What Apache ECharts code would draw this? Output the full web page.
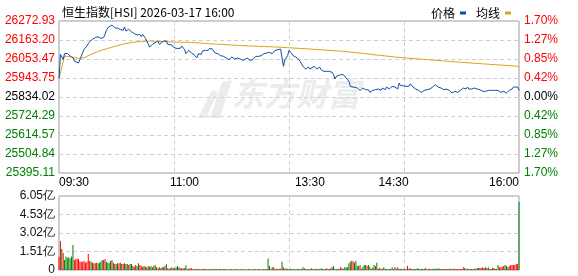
<!DOCTYPE html>
<html><head><meta charset="utf-8">
<script src="https://cdn.jsdelivr.net/npm/echarts@6/dist/echarts.min.js"></script>
<style>html,body{margin:0;padding:0;background:#fff}#c{width:578px;height:276px}</style>
</head><body><div id="c"></div>
<script>
const titleText = '恒生指数[HSI] 2026-03-17 16:00';
const legendNames = ['价格', '均线'];
const prevClose = 25834.02;
const priceTickLabels = ['25395.11','25504.84','25614.57','25724.29','25834.02','25943.75','26053.47','26163.20','26272.93'];
const pctTickLabels = ['1.70%','1.27%','0.85%','0.42%','0.00%','0.42%','0.85%','1.27%','1.70%'];
const timeLabels = ['09:30','11:00','13:30','14:30','16:00'];
const timeLabelMinutes = [0, 90, 180, 240, 330];
const volTickLabels = ['0','1.51亿','3.02亿','4.53亿','6.05亿'];
const volAxisMax = 605; // in 0.01亿

const priceMinutes = [0,1,2,3,4,5,6,8,9,10,11,12,14,15,16,17,18,20,21,22,23,24,26,27,28,29,30,32,33,34,35,36,38,39,40,41,42,44,45,46,47,48,50,51,52,53,54,56,57,58,59,60,62,63,64,65,66,67,69,70,71,72,73,75,76,77,78,79,81,82,83,84,85,87,88,89,90,91,93,94,95,96,97,99,100,101,102,103,105,106,107,108,109,
110,111,112,113,114,116,117,118,119,120,122,123,124,125,126,128,129,130,131,132,133,135,136,137,138,139,141,142,143,144,145,147,148,149,150,151,153,154,155,156,157,159,160,161,162,163,164,165,166,167,168,169,171,172,173,174,175,177,178,179,180,181,183,184,185,186,187,188,190,191,192,193,194,196,197,198,199,200,202,203,204,205,206,208,209,210,211,212,214,215,216,217,218,220,
221,222,223,225,226,227,228,229,231,232,233,234,235,237,238,239,240,241,243,244,245,246,247,249,250,251,252,253,254,256,257,258,259,260,262,263,264,265,266,268,269,270,271,272,274,275,276,277,278,280,281,282,283,284,286,287,288,289,290,292,293,294,295,296,298,299,300,301,302,304,305,306,307,308,309,311,312,313,314,315,317,318,319,320,321,323,324,325,326,327,329,330];
const priceValues = [25941.6,26080.2,26070.6,26051.4,26084.1,26093.7,26086.0,26070.6,26064.8,26061.0,26041.7,26036.0,26030.2,26051.4,26070.6,26089.9,26109.1,26128.4,26141.8,26153.4,26161.1,26166.9,26176.5,26186.1,26182.3,26172.6,26172.6,26176.5,26195.7,26218.8,26234.2,26243.9,26249.6,26253.5,26234.2,26224.6,26230.4,26224.6,26234.2,26218.8,26238.1,26215.0,26224.6,26234.2,26211.2,26205.4,26199.6,26191.9,26186.1,26195.7,26182.3,26195.7,26172.6,26157.2,26161.1,26122.6,26128.4,26138.0,26147.6,26153.4,26157.2,26138.0,26147.6,26157.2,26153.4,26157.2,26138.0,26141.8,26134.2,26122.6,26118.7,26114.9,26122.6,26114.9,26128.4,26122.6,26109.1,26084.1,26103.3,26099.5,26089.9,26084.1,26076.4,26061.0,26084.1,26089.9,26080.2,26099.5,26103.3,26109.1,26103.3,26114.9,26107.2,
26111.0,26103.3,26087.9,26078.3,26084.1,26072.5,26078.3,26068.7,26072.5,26059.1,26049.4,26059.1,26064.8,26059.1,26053.3,26059.1,26064.8,26053.3,26059.1,26045.6,26053.3,26059.1,26049.4,26045.6,26053.3,26049.4,26068.7,26072.5,26068.7,26078.3,26072.5,26084.1,26078.3,26087.9,26084.1,26091.8,26084.1,26087.9,26103.3,26097.6,26107.2,26111.0,26103.3,26010.9,26049.4,26059.1,26072.5,26103.3,26097.6,26084.1,26072.5,26068.7,26059.1,26053.3,26039.8,26030.2,26010.9,25995.5,26001.3,26007.1,25995.5,26001.3,26010.9,26007.1,25995.5,26001.3,26007.1,25991.7,25982.1,25987.9,25982.1,25991.7,25982.1,25976.3,25962.8,25937.8,25953.2,25949.3,25962.8,25957.0,25962.8,25953.2,25943.6,25924.3,25895.4,25885.8,25891.6,25880.1,25885.8,25880.1,25872.3,25880.1,25885.8,25876.2,
25885.8,25876.2,25860.8,25872.3,25880.0,25876.2,25885.8,25880.0,25872.3,25885.8,25880.0,25876.2,25891.6,25880.0,25885.8,25895.4,25885.8,25891.6,25880.0,25914.7,25899.3,25910.8,25899.3,25895.4,25905.1,25895.4,25910.8,25905.1,25891.6,25880.0,25876.2,25872.3,25866.6,25860.8,25872.3,25876.2,25876.2,25876.2,25880.0,25891.6,25885.8,25905.1,25895.4,25891.6,25885.8,25880.0,25876.2,25876.2,25880.0,25872.3,25866.6,25856.9,25860.8,25866.6,25860.8,25866.6,25872.3,25876.2,25885.8,25880.0,25891.6,25880.0,25872.3,25880.0,25885.8,25876.2,25880.0,25872.3,25876.2,25866.6,25872.3,25866.6,25860.8,25872.3,25876.2,25872.3,25866.6,25872.3,25880.0,25872.3,25860.8,25856.9,25866.6,25860.8,25856.9,25872.3,25876.2,25880.0,25891.6,25899.3,25891.6,25872.3];

const avgMinutes = [0,4,9,14,18,23,29,35,41,47,53,59,65,71,83,95,108,132,156,180,204,220,241,265,289,313,330];
const avgValues = [25941.6,26070.6,26064.8,26057.1,26061.0,26080.2,26099.5,26114.9,26128.4,26141.8,26149.5,26155.2,26157.2,26155.3,26151.5,26149.5,26141.8,26130.3,26122.6,26111.0,26097.6,26084.1,26064.8,26049.4,26034.0,26020.6,26010.9];

// volume per minute, unit 0.01亿
const volume = [
109,237,172,140,82,110,100,105,95,110,
205,82,87,95,90,68,68,68,76,60,
68,131,76,68,60,55,55,60,55,60,
68,82,82,90,68,60,60,74,82,60,
49,49,55,55,60,49,49,55,49,49,
41,49,49,33,27,41,33,55,41,33,
27,33,27,22,33,27,33,22,33,41,
22,14,22,14,22,22,33,49,14,11,
14,22,14,14,22,33,22,14,14,14,
14,38,11,11,14,14,8,6,8,11,
6,8,6,8,11,6,8,6,8,6,
8,6,11,6,8,6,8,6,6,8,
6,5,6,8,6,5,6,8,5,6,
5,6,8,5,6,5,8,6,5,6,
8,6,5,8,6,5,6,8,6,8,
95,33,11,22,22,8,11,8,11,11,
68,22,11,14,8,8,8,8,8,6,
6,8,8,6,8,22,14,8,8,6,
8,14,6,8,8,11,6,8,14,8,
8,8,14,8,8,14,22,33,8,6,
11,8,22,16,8,22,22,22,55,68,
76,71,60,76,33,33,41,11,27,41,
41,33,41,27,11,19,41,33,60,11,
16,11,11,22,11,8,8,8,11,22,
8,22,11,22,8,8,11,8,8,8,
33,11,14,8,8,8,8,14,11,8,
8,8,11,14,6,8,11,8,8,11,
11,11,14,8,8,8,8,8,8,8,
11,8,11,8,11,6,8,8,8,8,
22,16,11,11,8,8,8,8,11,11,
16,16,16,16,22,16,22,16,22,8,
8,16,16,8,8,41,22,22,27,33,
41,33,22,33,41,41,41,41,49,49,
556];
// 1 = up (red), 0 = down (green)
const volumeUp = [
1,1,0,1,0,0,0,0,0,0,
0,1,1,1,1,1,1,1,1,1,
1,1,1,0,1,0,1,1,0,0,
0,0,1,1,0,0,0,0,1,0,
1,0,0,1,1,0,1,0,1,0,
1,0,0,0,1,1,0,1,0,1,
1,0,1,0,0,1,0,1,0,0,
1,1,0,1,0,1,0,0,1,1,
1,0,0,1,0,0,1,1,0,1,
0,0,1,0,1,1,0,1,0,1,
1,0,1,0,1,0,1,0,1,1,
0,0,0,1,0,1,0,1,0,0,
1,0,0,1,1,0,0,0,1,0,
1,0,0,1,0,1,0,0,1,0,
1,0,0,1,0,0,1,0,0,1,
0,0,1,0,1,0,1,0,1,0,
0,1,1,0,0,0,0,0,0,0,
0,1,0,0,1,0,0,1,0,0,
1,0,0,1,1,1,0,0,0,1,
0,0,1,1,1,0,0,0,1,1,
0,0,1,1,0,0,0,0,0,0,
1,1,0,0,0,1,0,1,0,0,
0,1,0,0,1,1,0,0,0,1,
1,0,1,0,0,0,0,0,1,0,
0,1,0,1,0,0,1,0,0,0,
1,1,1,0,0,0,0,0,0,0,
0,0,1,0,1,0,1,1,0,0,
0,0,0,1,1,0,1,1,0,1,
0,1,0,1,1,0,1,1,1,1,
1,1,0,0,0,0,1,1,1,0,
0,0,1,1,1,1,0,0,0,1,
1,1,1,0,0,0,1,1,1,1,
0,0,0,1,1,1,1,1,1,1,
0];

const FONT = '"Liberation Sans", Arial, sans-serif';
const RED = '#ff0000', GREEN = '#008000', BLUE = '#0f4fa3', GOLD = '#e0a21c';
const step = (parseFloat(priceTickLabels[8]) - parseFloat(priceTickLabels[0])) / 8;
const toUnit = v => (v - prevClose) / step;
const labelColor = (v) => { const i = Math.round(v) + 4; return i > 4 ? RED : (i < 4 ? GREEN : '#000'); };
const dashed = { show: true, lineStyle: { color: '#d0d0d0', type: [4, 3], width: 1 } };

const chart = echarts.init(document.getElementById('c'), null, { renderer: 'canvas' });
chart.setOption({
  animation: false,
  backgroundColor: '#fff',
  textStyle: { fontFamily: FONT },
  title: { text: titleText, left: 57, top: 1, textStyle: { fontSize: 12, fontWeight: 'normal', color: '#000', fontFamily: '"Noto Sans CJK SC", sans-serif' } },
  legend: { data: legendNames, right: 62, top: 2, align: 'right', icon: 'rect', itemWidth: 6, itemHeight: 3, itemGap: 10,
    textStyle: { fontSize: 12, color: '#000', fontFamily: '"Noto Sans CJK SC", sans-serif' } },
  grid: [
    { left: 59, right: 59, top: 21, height: 152, show: true, borderColor: '#999', borderWidth: 1 },
    { left: 59, right: 59, top: 196, height: 74, show: true, borderColor: '#999', borderWidth: 1 }
  ],
  xAxis: [
    { gridIndex: 0, type: 'value', min: 0, max: 330, interval: 82.5, position: 'bottom', axisLine: { show: false }, axisTick: { show: false }, axisLabel: { show: false }, splitLine: dashed },
    { gridIndex: 0, type: 'value', min: 0, max: 330, position: 'bottom', offset: 0, axisLine: { show: false }, axisTick: { show: false }, splitLine: { show: false },
      axisLabel: { customValues: timeLabelMinutes, fontSize: 12, color: '#000', margin: 4, alignMinLabel: 'left', alignMaxLabel: 'right',
        formatter: v => timeLabels[timeLabelMinutes.indexOf(Math.round(v))] } },
    { gridIndex: 1, type: 'value', min: 0, max: 330, interval: 82.5, position: 'bottom', axisLine: { show: false }, axisTick: { show: false }, axisLabel: { show: false }, splitLine: dashed }
  ],
  yAxis: [
    { gridIndex: 0, type: 'value', min: -4, max: 4, interval: 1, position: 'left', axisLine: { show: false }, axisTick: { show: false }, splitLine: dashed,
      axisLabel: { fontSize: 12, margin: 4, formatter: v => priceTickLabels[Math.round(v) + 4], color: labelColor } },
    { gridIndex: 0, type: 'value', min: -4, max: 4, interval: 1, position: 'right', axisLine: { show: false }, axisTick: { show: false }, splitLine: { show: false },
      axisLabel: { fontSize: 12, margin: 5, formatter: v => pctTickLabels[Math.round(v) + 4], color: labelColor } },
    { gridIndex: 1, type: 'value', min: 0, max: volAxisMax, interval: volAxisMax / 4, axisLine: { show: false }, axisTick: { show: false }, splitLine: dashed,
      axisLabel: { fontSize: 12, margin: 4, color: '#111', formatter: v => volTickLabels[Math.round(v / (volAxisMax / 4))] } }
  ],
  graphic: [
    { type: 'polygon', z: 0, shape: { points: [[210,118],[222,82],[232,80],[220,118]] }, style: { fill: '#ececec' } },
    { type: 'polygon', z: 0, shape: { points: [[198,118],[212,90],[218,92],[206,118]] }, style: { fill: '#ececec' } },
    { type: 'text', z: 0, left: 232, top: 78, style: { text: '东方财富', fontSize: 32, fontWeight: 'bold', fontStyle: 'italic', fill: '#ececec', fontFamily: '"Noto Sans CJK SC", sans-serif' } }
  ],
  series: [
    { name: '价格', type: 'line', xAxisIndex: 0, yAxisIndex: 0, showSymbol: false, z: 5, color: BLUE,
      lineStyle: { width: 1, color: BLUE }, data: priceMinutes.map((m, i) => [m, toUnit(priceValues[i])]) },
    { name: '均线', type: 'line', xAxisIndex: 0, yAxisIndex: 0, showSymbol: false, z: 4, color: GOLD,
      lineStyle: { width: 1, color: GOLD }, data: avgMinutes.map((m, i) => [m, toUnit(avgValues[i])]) },
    { name: '成交量', type: 'bar', xAxisIndex: 2, yAxisIndex: 2, barWidth: 1, z: 5,
      data: volume.map((v, i) => ({ value: [i, v], itemStyle: { color: volumeUp[i] ? RED : GREEN } })) }
  ]
});
</script></body></html>
